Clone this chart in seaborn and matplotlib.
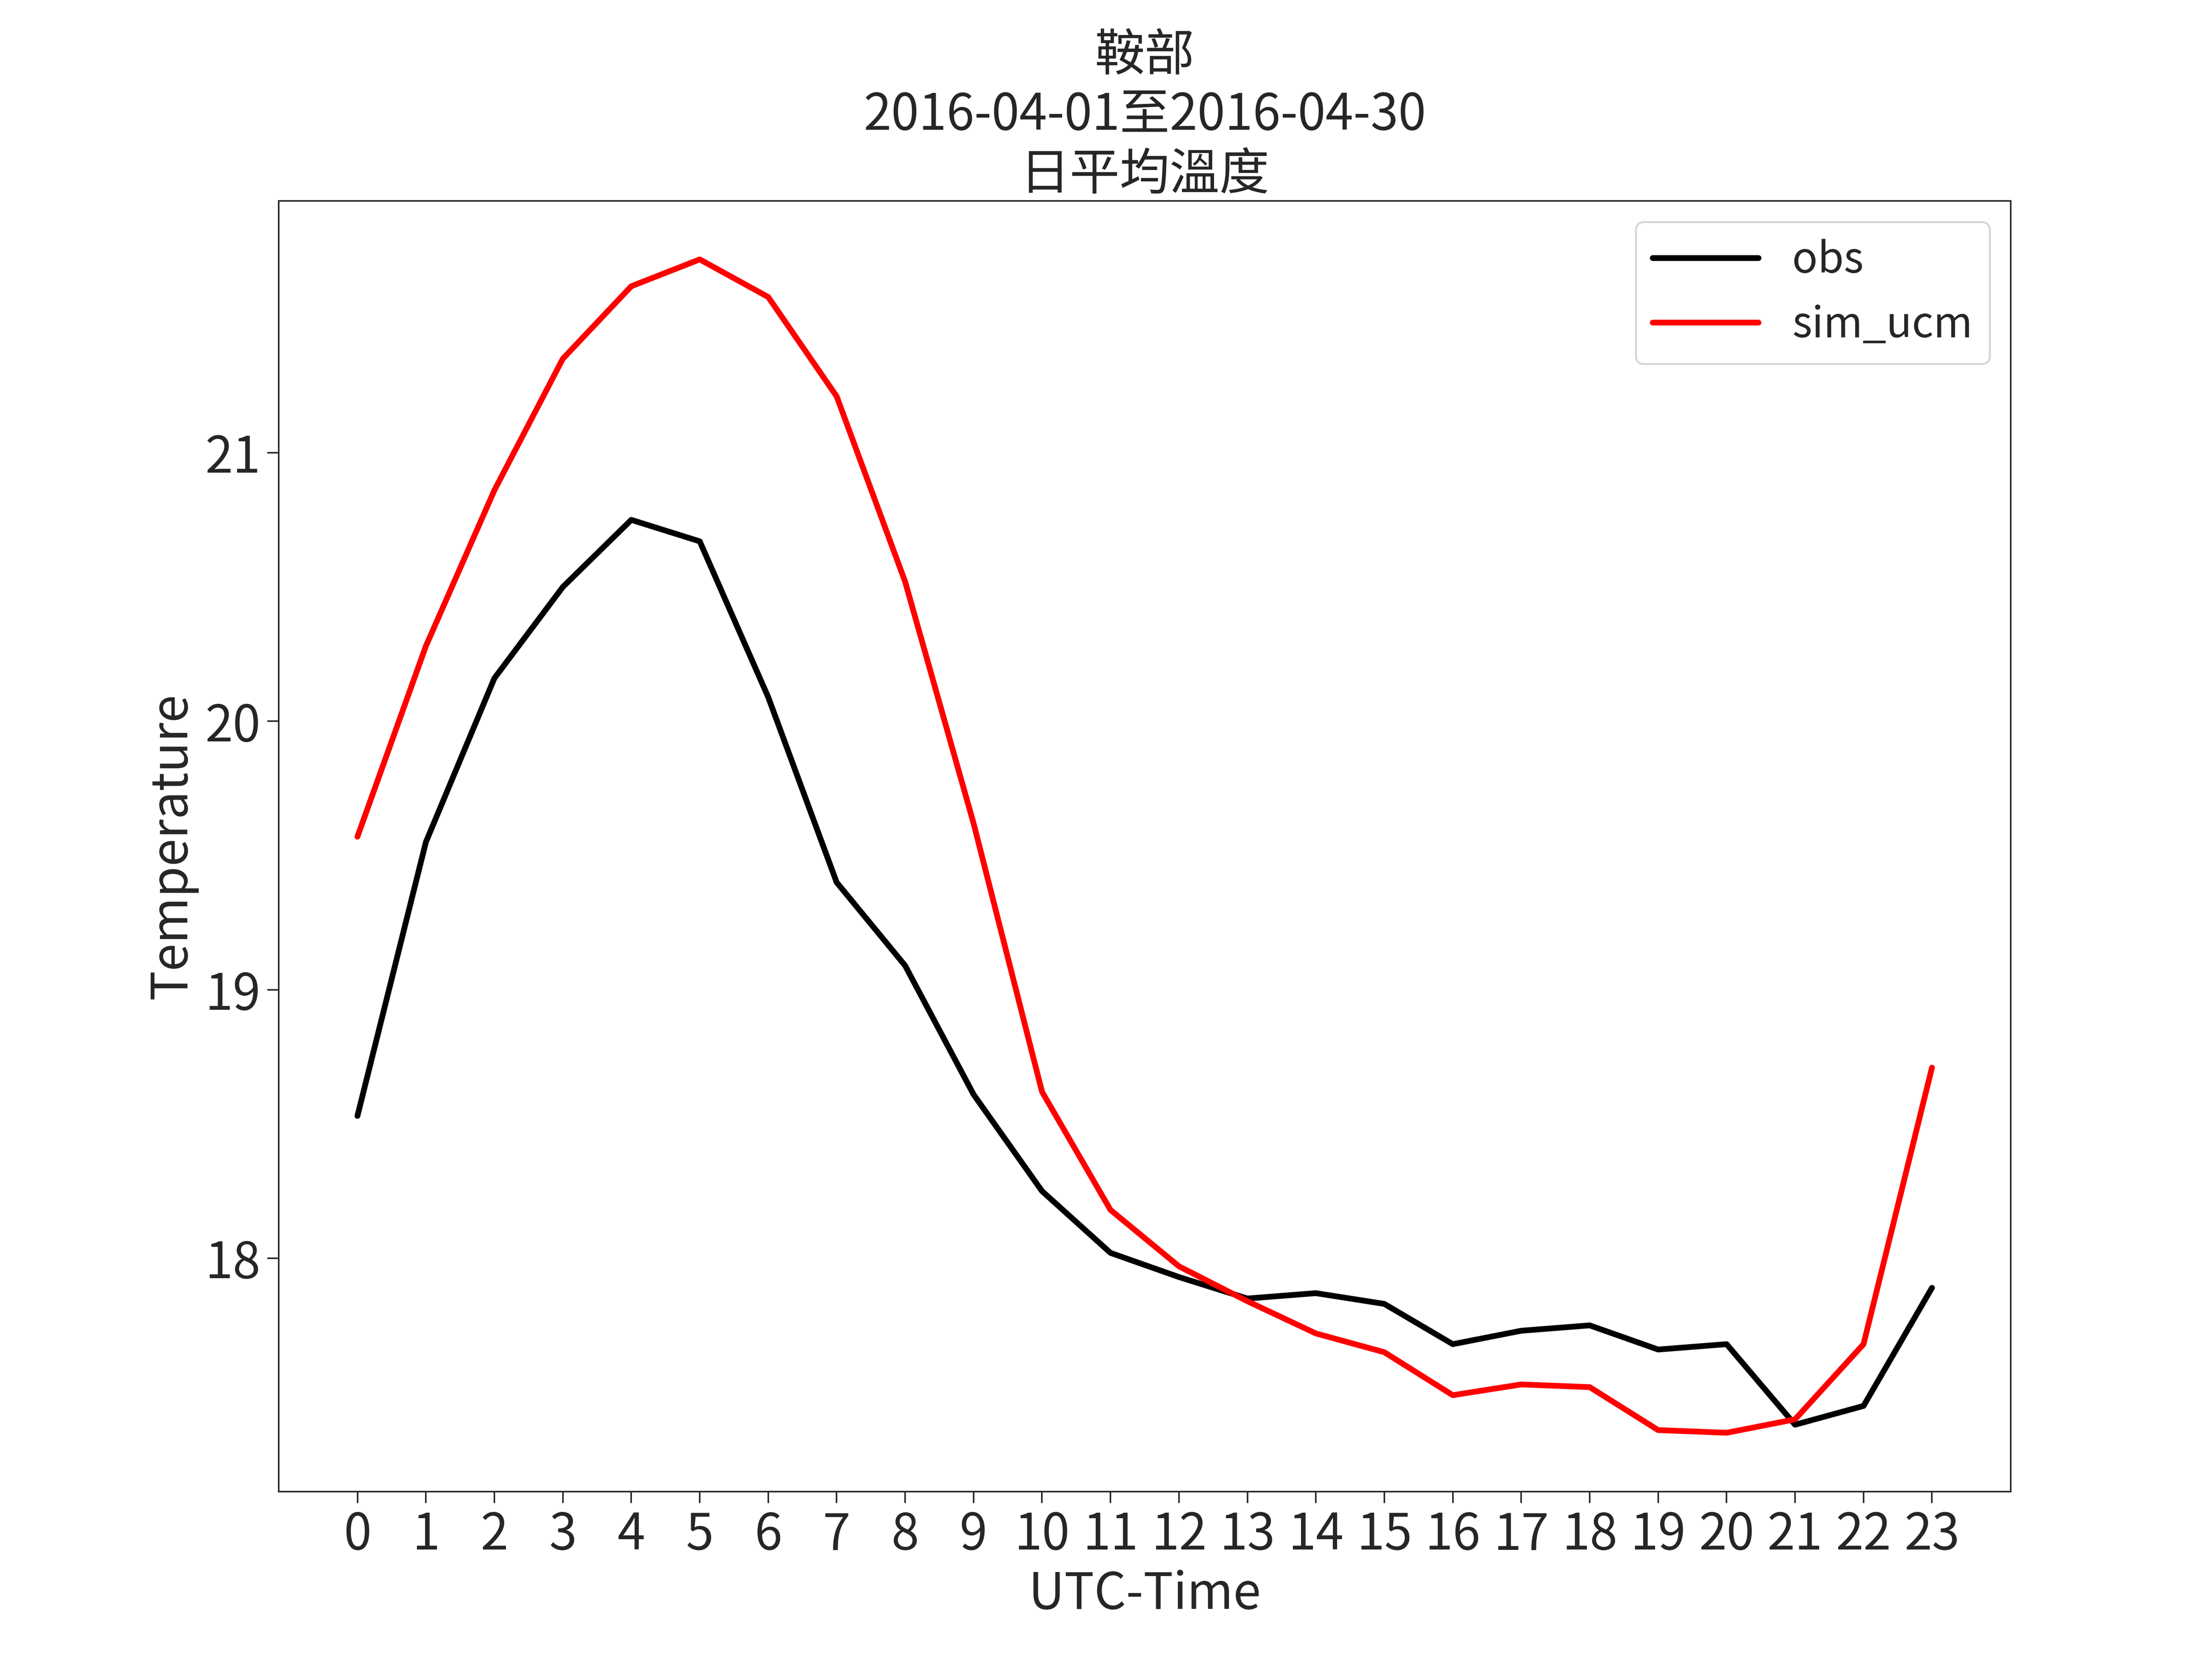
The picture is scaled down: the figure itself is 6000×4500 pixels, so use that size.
import matplotlib
matplotlib.use("Agg")
import matplotlib.pyplot as plt
import seaborn as sns
import pandas as pd

hours = list(range(24))
obs = [18.53,19.55,20.16,20.50,20.75,20.67,20.09,19.40,19.09,18.61,18.25,18.02,
       17.93,17.85,17.87,17.83,17.68,17.73,17.75,17.66,17.68,17.38,17.45,17.89]
sim_ucm = [19.57,20.28,20.86,21.35,21.62,21.72,21.58,21.21,20.52,19.62,18.62,18.18,
           17.97,17.84,17.72,17.65,17.49,17.53,17.52,17.36,17.35,17.40,17.68,18.71]

sns.set_style("ticks")
plt.rcParams['font.family'] = ['Noto Sans CJK TC', 'DejaVu Sans']

df = pd.DataFrame({"hour": hours + hours, "T": obs + sim_ucm,
                   "series": ["obs"] * 24 + ["sim_ucm"] * 24})

fig = plt.figure(figsize=(16, 12), dpi=375)
ax = fig.add_axes([0.126, 0.101, 0.783, 0.778])
sns.lineplot(data=df, x="hour", y="T", hue="series",
             palette={"obs": "black", "sim_ucm": "red"}, linewidth=3, ax=ax)
ax.set_xticks(hours)
ax.set_xticklabels([str(h) for h in hours])
ax.set_yticks([18, 19, 20, 21])
ax.tick_params(labelsize=26, length=6)
ax.set_xlim(-1.15, 24.15)
ax.set_xlabel("UTC-Time", fontsize=26)
ax.set_ylabel("Temperature", fontsize=26)
ax.set_title("鞍部\n2016-04-01至2016-04-30\n日平均溫度", fontsize=26, linespacing=1.2)
leg = ax.legend(fontsize=22, loc="upper right", handlelength=2.5)
leg.set_title(None)
for s in ax.spines.values():
    s.set_visible(True)
fig.savefig("out.png")
